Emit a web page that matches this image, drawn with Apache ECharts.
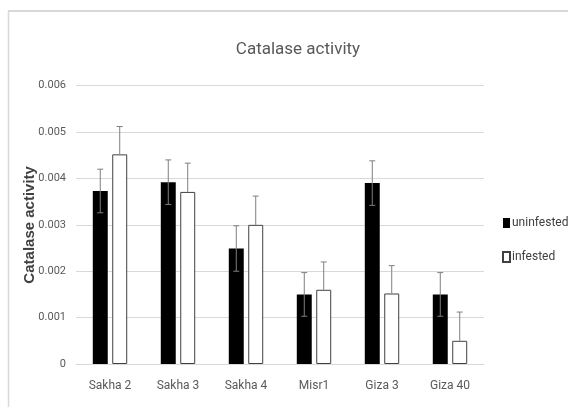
<!DOCTYPE html>
<html>
<head>
<meta charset="utf-8">
<script src="https://cdn.jsdelivr.net/npm/echarts@6/dist/echarts.min.js"></script>
<style>
  html, body { margin: 0; padding: 0; background: #fff; }
  #chart { width: 568px; height: 407px; }
</style>
</head>
<body>
<div id="chart"></div>
<script>
  var categories = ['Sakha 2', 'Sakha 3', 'Sakha 4', 'Misr1', 'Giza 3', 'Giza 40'];
  var uninfested = [0.00373, 0.00392, 0.00249, 0.0015, 0.0039, 0.0015];
  var infested = [0.00452, 0.00371, 0.0030, 0.0016, 0.00152, 0.0005];
  var uninfestedErr = [0.00047, 0.00048, 0.00049, 0.00047, 0.00048, 0.00047];
  var infestedErr = [0.0006, 0.00062, 0.00062, 0.0006, 0.0006, 0.00062];

  var narrow = 'Roboto, sans-serif';
  var barRatio = 0.22;
  var gapRatio = 0.3;

  // error bars drawn as a custom series; side -1 = left bar, +1 = right bar
  function errorSeries(name, values, errs, side, both) {
    return {
      name: name + ' err',
      type: 'custom',
      z: 5,
      silent: true,
      data: values.map(function (v, i) { return [i, v, errs[i]]; }),
      renderItem: function (params, api) {
        var i = api.value(0), v = api.value(1), e = api.value(2);
        var catW = api.size([1, 0])[0];
        var bw = catW * barRatio;
        var off = side * (bw + bw * gapRatio) / 2;
        var top = api.coord([i, v + e]);
        var mid = api.coord([i, v]);
        var bot = both ? api.coord([i, v - e]) : mid;
        var x = top[0] + off;
        var cap = 3;
        var style = { stroke: '#7f7f7f', lineWidth: 1 };
        var children = [
          { type: 'line', shape: { x1: x, y1: top[1], x2: x, y2: bot[1] }, style: style },
          { type: 'line', shape: { x1: x - cap, y1: top[1], x2: x + cap, y2: top[1] }, style: style }
        ];
        if (both) {
          children.push({ type: 'line', shape: { x1: x - cap, y1: bot[1], x2: x + cap, y2: bot[1] }, style: style });
        }
        return { type: 'group', children: children };
      }
    };
  }

  var myChart = echarts.init(document.getElementById('chart'));
  var option = {
    animation: false,
    backgroundColor: '#fff',
    title: {
      text: 'Catalase activity',
      left: 293,
      top: 36,
      textAlign: 'center',
      textStyle: { fontFamily: narrow, fontSize: 17, fontWeight: 'normal', color: '#595959' }
    },
    graphic: [
      { type: 'line', shape: { x1: 8, y1: 11, x2: 568, y2: 11 }, style: { stroke: '#d9d9d9', lineWidth: 2 } },
      { type: 'line', shape: { x1: 8.5, y1: 11, x2: 8.5, y2: 407 }, style: { stroke: '#d9d9d9', lineWidth: 1.5 } }
    ],
    legend: {
      orient: 'vertical',
      left: 497,
      top: 212,
      itemWidth: 7,
      itemHeight: 10,
      itemGap: 22,
      data: [
        { name: 'uninfested', icon: 'rect' },
        { name: 'infested', icon: 'rect' }
      ],
      textStyle: { fontFamily: narrow, fontSize: 12, color: '#404040', padding: [0, 0, 0, -3] }
    },
    grid: { left: 76, right: 84, top: 85.7, bottom: 43 },
    xAxis: {
      type: 'category',
      data: categories,
      axisLine: { lineStyle: { color: '#d9d9d9' } },
      axisTick: { length: 5, lineStyle: { color: '#d9d9d9' } },
      axisLabel: { fontFamily: narrow, fontSize: 12, color: '#595959', margin: 16 }
    },
    yAxis: {
      type: 'value',
      min: 0,
      max: 0.006,
      interval: 0.001,
      name: 'Catalase activity',
      nameLocation: 'middle',
      nameGap: 39,
      nameMoveOverlap: false,
      nameTextStyle: { fontFamily: '"Liberation Sans", Arial, sans-serif', fontSize: 15, fontWeight: 'bold', color: '#404040' },
      axisLine: { show: false },
      axisTick: { show: false },
      splitLine: { lineStyle: { color: '#d9d9d9' } },
      axisLabel: { fontFamily: narrow, fontSize: 11, color: '#595959', margin: 10 }
    },
    series: [
      {
        name: 'uninfested',
        type: 'bar',
        data: uninfested,
        barWidth: (barRatio * 100) + '%',
        barGap: (gapRatio * 100) + '%',
        itemStyle: { color: '#000', borderColor: '#000', borderWidth: 0 }
      },
      {
        name: 'infested',
        type: 'bar',
        data: infested,
        barWidth: (barRatio * 100) + '%',
        itemStyle: { color: '#fff', borderColor: '#404040', borderWidth: 1 }
      },
      errorSeries('uninfested', uninfested, uninfestedErr, -1, true),
      errorSeries('infested', infested, infestedErr, 1, false)
    ]
  };
  myChart.setOption(option);
</script>
</body>
</html>
